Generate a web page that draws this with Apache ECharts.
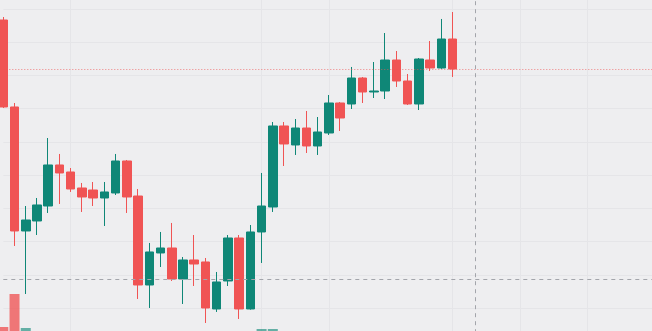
<!DOCTYPE html>
<html>
<head>
<meta charset="utf-8">
<script src="https://cdn.jsdelivr.net/npm/echarts@6/dist/echarts.min.js"></script>
<style>
html,body{margin:0;padding:0;background:#EEEEF0;}
#chart{width:652px;height:331px;}
</style>
</head>
<body>
<div id="chart"></div>
<script>
// 60 category slots (41 traded sessions + empty future slots)
const categories = ["01","02","03","04","05","06","07","08","09","10","11","12","13","14","15","16","17","18","19","20","21","22","23","24","25","26","27","28","29","30","31","32","33","34","35","36","37","38","39","40","41","42","43","44","45","46","47","48","49","50","51","52","53","54","55","56","57","58","59","60"];

const opens  = [186.69,160.51,123.18,126.19,130.70,143.05,140.94,136.12,135.52,133.11,134.62,144.25,133.71,106.92,116.56,118.06,108.73,114.45,113.85,99.70,108.13,121.07,99.70,122.88,130.40,154.79,149.07,154.18,148.77,152.68,161.71,161.41,169.23,165.02,165.32,174.65,168.33,161.41,174.65,172.24,180.97];
const closes = [160.51,123.18,126.49,131.01,143.05,140.64,135.82,133.41,133.11,134.92,144.25,133.41,106.92,116.86,118.06,108.73,114.45,113.24,100.00,107.83,121.07,99.70,122.88,130.70,154.79,149.37,154.18,148.77,152.98,161.71,157.19,169.23,165.02,165.32,174.65,168.33,161.41,174.95,172.24,180.97,171.94];
const lows   = [160.20,118.66,104.21,121.97,128.60,131.31,134.92,128.90,130.70,124.68,134.02,128.60,102.71,100.00,112.34,108.13,101.20,106.62,95.48,98.80,106.62,96.69,99.50,113.55,128.90,142.74,146.06,146.66,146.06,152.08,153.28,159.90,161.71,163.21,162.91,166.53,161.11,159.60,171.34,172.00,169.54];
const highs  = [187.60,161.71,130.70,133.11,151.17,146.36,142.14,137.63,137.93,137.93,146.36,144.55,135.82,119.57,122.88,125.59,115.35,121.97,115.05,110.84,121.97,121.97,124.98,140.64,155.99,155.99,156.89,159.30,157.49,164.12,162.01,172.55,169.54,174.05,182.78,177.36,170.44,175.25,180.37,187.00,189.10];
const volumes = [154,187,153,120,110,95,90,85,80,75,100,105,140,125,90,100,95,85,120,110,115,130,135,152,152,120,95,90,85,110,100,125,100,105,130,110,120,135,100,115,120];

const lastClose = 171.94;
const crosshairIndex = 42;
const crosshairPrice = 108.73;
const gridLineIndices = [6,23,29,40,46,52];

const UP = '#0F8777';
const DOWN = '#F05454';

const candleData = categories.map((c,i)=> i < opens.length ? [opens[i],closes[i],lows[i],highs[i]] : '-');
const volData = categories.map((c,i)=> i < volumes.length ? {
  value: volumes[i],
  itemStyle: {color: closes[i] >= opens[i] ? 'rgba(15,135,119,0.62)' : 'rgba(240,84,84,0.78)'}
} : '-');

const chart = echarts.init(document.getElementById('chart'), null, {renderer:'canvas'});
const gridLeft = 3.3, step = 11.23;
const gridRight = 652 - gridLeft - step*(categories.length-1);

chart.setOption({
  backgroundColor: '#EEEEF0',
  animation: false,
  grid: [
    {left: gridLeft, right: gridRight, top: -24.2, bottom: -10.2, outerBoundsMode:'none', containLabel:false},
    {left: gridLeft, right: gridRight, top: 250, bottom: -150, outerBoundsMode:'none', containLabel:false}
  ],
  xAxis: [
    {type:'category', data: categories, gridIndex:0, boundaryGap:false,
     axisLine:{show:false}, axisTick:{show:false}, axisLabel:{show:false},
     splitLine:{show:true, interval:(idx)=>gridLineIndices.includes(idx), lineStyle:{color:'#E5E5E8', width:1}}},
    {type:'category', data: categories, gridIndex:1, boundaryGap:false,
     axisLine:{show:false}, axisTick:{show:false}, axisLabel:{show:false}, splitLine:{show:false}}
  ],
  yAxis: [
    {type:'value', gridIndex:0, min:90, max:200, interval:10, position:'right',
     axisLine:{show:false}, axisTick:{show:false}, axisLabel:{show:false},
     splitLine:{show:true, lineStyle:{color:'#E5E5E8', width:1}}},
    {type:'value', gridIndex:1, min:0, max:231,
     axisLine:{show:false}, axisTick:{show:false}, axisLabel:{show:false}, splitLine:{show:false}}
  ],
  series: [
    {
      type:'bar', xAxisIndex:1, yAxisIndex:1, data: volData, barWidth: 10, clip:false, z:1
    },
    {
      type:'candlestick', xAxisIndex:0, yAxisIndex:0, data: candleData, barWidth: 9, clip:false, z:3,
      itemStyle:{color:UP, color0:DOWN, borderColor:UP, borderColor0:DOWN, borderWidth:1},
      markLine:{
        silent:true, symbol:['none','none'], label:{show:false}, animation:false,
        data:[
          {yAxis: lastClose, lineStyle:{color:'rgba(240,84,84,0.7)', type:[1,2], width:1}},
          {yAxis: crosshairPrice, lineStyle:{color:'#A3A5AB', type:[4,4], width:1}},
          {xAxis: categories[crosshairIndex], lineStyle:{color:'#A3A5AB', type:[4,4], width:1}}
        ]
      }
    }
  ]
});
</script>
</body>
</html>
